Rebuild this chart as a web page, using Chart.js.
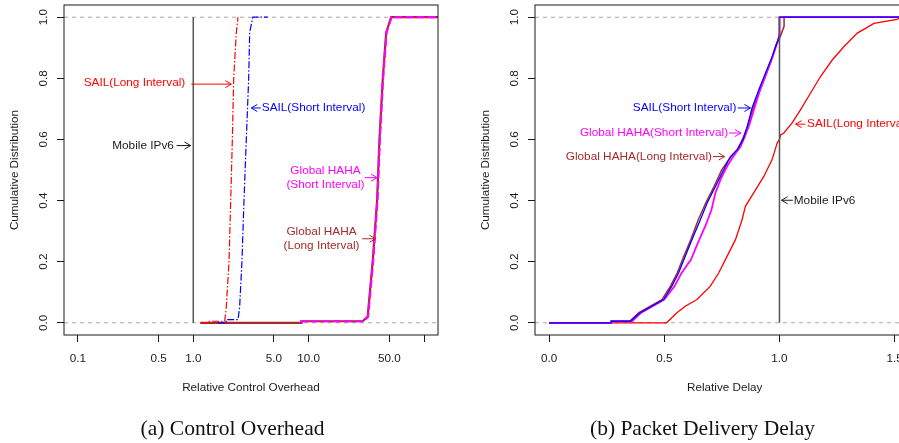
<!DOCTYPE html>
<html>
<head>
<meta charset="utf-8">
<script src="https://cdn.jsdelivr.net/npm/chart.js@4.4.0/dist/chart.umd.min.js"></script>
<style>
  html, body { margin: 0; padding: 0; background: #fff; overflow: hidden; }
  #wrap { position: relative; width: 899px; height: 443px; overflow: hidden; }
  .panel { position: absolute; top: 0; width: 450px; height: 443px; }
  .cap { position: absolute; top: 418px; font: 21.5px/1 "Liberation Serif", "Times New Roman", serif;
         color: #111; white-space: nowrap; transform: translateX(-50%); }
</style>
</head>
<body>
<div id="wrap">
  <div class="panel" style="left:0"><canvas id="overhead" width="450" height="443"></canvas></div>
  <div class="panel" style="left:470.5px"><canvas id="delay" width="450" height="443"></canvas></div>
  <div class="cap" style="left:232.5px">(a) Control Overhead</div>
  <div class="cap" style="left:702.5px">(b) Packet Delivery Delay</div>
</div>
<script>
const FONT = '"Liberation Sans", Arial, sans-serif';
const INK = '#1a1a1a';
const RED = '#ff0000', BLUE = '#0000ff', MAGENTA = '#ff00ff', BROWN = '#a52a2a', GREY = '#555555';

// shared y axis (cumulative distribution)
const yTicks = [0, 0.2, 0.4, 0.6, 0.8, 1.0];
const yTickLabels = ['0.0', '0.2', '0.4', '0.6', '0.8', '1.0'];
const yLimits = [-0.04, 1.04];

// ---- (a) control overhead, log x ----
const ohTicks = [0.1, 0.5, 1, 5, 10, 50, 100];
const ohTickLabels = ['0.1', '0.5', '1.0', '5.0', '10.0', '50.0', ''];
const ohLimits = [0.0759, 131.8];

const ohMobileX = [1, 1];
const ohMobileY = [0, 1];
const ohSailLongX = [1.17, 1.33, 1.33, 1.87, 1.93, 2.04, 2.11, 2.18, 2.24, 2.36, 2.44];
const ohSailLongY = [0, 0, 0.005, 0.005, 0.05, 0.2, 0.4, 0.6, 0.8, 0.95, 1.0];
const ohSailShortX = [1.63, 1.93, 1.93, 2.44, 2.52, 2.64, 2.75, 2.88, 3.02, 3.08, 3.28, 4.42];
const ohSailShortY = [0, 0, 0.01, 0.01, 0.05, 0.2, 0.4, 0.6, 0.8, 0.95, 1.0, 1.0];
const ohHahaShortX = [8.65, 8.65, 29.6, 32.7, 36.1, 39.4, 41.3, 44.1, 47.2, 52.1, 131.8];
const ohHahaShortY = [0, 0.005, 0.005, 0.02, 0.2, 0.4, 0.6, 0.8, 0.95, 1.0, 1.0];
const ohHahaLongX = [1.15, 8.65, 8.65, 29.3, 32.4, 35.8, 39.1, 41.0, 43.8, 46.9, 51.8, 131.8];
const ohHahaLongY = [0, 0, 0.005, 0.005, 0.02, 0.2, 0.4, 0.6, 0.8, 0.95, 1.0, 1.0];

// labels and arrows, in data units
const ohNotes = [
  { lines: ['SAIL(Long Interval)'], x: 0.853, y: 0.784, align: 'right', color: RED },
  { lines: ['SAIL(Short Interval)'], x: 3.92, y: 0.703, align: 'left', color: BLUE },
  { lines: ['Mobile IPv6'], x: 0.679, y: 0.58, align: 'right', color: INK },
  { lines: ['Global HAHA', '(Short Interval)'], x: 13.96, y: 0.475, align: 'center', color: MAGENTA },
  { lines: ['Global HAHA', '(Long Interval)'], x: 12.9, y: 0.275, align: 'center', color: BROWN }
];
const ohArrows = [
  { from: 0.961, to: 2.136, y: 0.781, color: RED },
  { from: 3.85, to: 3.18, y: 0.703, color: BLUE },
  { from: 0.717, to: 0.947, y: 0.58, color: INK },
  { from: 30.6, to: 39.1, y: 0.475, color: MAGENTA },
  { from: 29.0, to: 37.9, y: 0.275, color: BROWN }
];

// ---- (b) packet delivery delay, linear x ----
const dlTicks = [0, 0.5, 1.0, 1.5];
const dlTickLabels = ['0.0', '0.5', '1.0', '1.5'];
const dlLimits = [-0.061, 1.586];

const dlMobileX = [1, 1];
const dlMobileY = [0, 1];
const dlSailShortX = [0, 0.27, 0.27, 0.352, 0.396, 0.497, 0.533, 0.562, 0.591, 0.620, 0.657, 0.686, 0.722, 0.758, 0.787, 0.816, 0.842, 0.86, 0.881, 0.91, 0.939, 0.968, 0.994, 1.0, 1.0, 1.525];
const dlSailShortY = [0, 0, 0.005, 0.005, 0.033, 0.076, 0.12, 0.163, 0.218, 0.272, 0.338, 0.392, 0.446, 0.501, 0.544, 0.566, 0.599, 0.642, 0.703, 0.762, 0.817, 0.871, 0.926, 0.94, 1.0, 1.0];
const dlHahaShortX = [0, 0.27, 0.27, 0.36, 0.40, 0.50, 0.545, 0.575, 0.616, 0.645, 0.678, 0.705, 0.722, 0.745, 0.775, 0.80, 0.83, 0.85, 0.87, 0.89, 0.915, 0.943, 0.97, 0.994, 1.0, 1.0, 1.525];
const dlHahaShortY = [0, 0, 0.005, 0.005, 0.033, 0.076, 0.12, 0.163, 0.207, 0.26, 0.316, 0.37, 0.425, 0.47, 0.515, 0.545, 0.575, 0.61, 0.65, 0.70, 0.76, 0.815, 0.87, 0.925, 0.945, 1.0, 1.0];
const dlHahaLongX = [0, 0.27, 0.27, 0.35, 0.39, 0.49, 0.527, 0.556, 0.585, 0.615, 0.648, 0.68, 0.716, 0.75, 0.78, 0.82, 0.845, 0.865, 0.885, 0.912, 0.94, 0.965, 0.985, 1.0, 1.02, 1.02, 1.525];
const dlHahaLongY = [0, 0, 0.005, 0.005, 0.033, 0.076, 0.12, 0.163, 0.218, 0.272, 0.338, 0.392, 0.446, 0.501, 0.534, 0.57, 0.61, 0.65, 0.70, 0.755, 0.81, 0.86, 0.91, 0.93, 0.97, 1.0, 1.0];
const dlSailLongX = [0, 0.51, 0.555, 0.591, 0.642, 0.70, 0.736, 0.773, 0.809, 0.838, 0.852, 0.888, 0.932, 0.968, 0.99, 1.0, 1.005, 1.019, 1.055, 1.091, 1.135, 1.178, 1.229, 1.28, 1.338, 1.41, 1.51, 1.525];
const dlSailLongY = [0, 0, 0.033, 0.054, 0.076, 0.12, 0.163, 0.218, 0.272, 0.338, 0.381, 0.425, 0.479, 0.534, 0.588, 0.60, 0.615, 0.621, 0.654, 0.697, 0.752, 0.806, 0.86, 0.904, 0.948, 0.98, 0.993, 1.0];

const dlNotes = [
  { lines: ['SAIL(Short Interval)'], x: 0.813, y: 0.703, align: 'right', color: BLUE },
  { lines: ['Global HAHA(Short Interval)'], x: 0.777, y: 0.621, align: 'right', color: MAGENTA },
  { lines: ['Global HAHA(Long Interval)'], x: 0.707, y: 0.544, align: 'right', color: BROWN },
  { lines: ['SAIL(Long Interval)'], x: 1.12, y: 0.65, align: 'left', color: RED },
  { lines: ['Mobile IPv6'], x: 1.062, y: 0.401, align: 'left', color: INK }
];
const dlArrows = [
  { from: 0.819, to: 0.874, y: 0.703, color: BLUE },
  { from: 0.781, to: 0.833, y: 0.621, color: MAGENTA },
  { from: 0.711, to: 0.762, y: 0.544, color: BROWN },
  { from: 1.112, to: 1.070, y: 0.65, color: RED },
  { from: 1.058, to: 1.009, y: 0.401, color: INK }
];

function pts(xs, ys) {
  return xs.map((x, i) => ({ x: x, y: ys[i] }));
}

function line(data, color, width, dash) {
  return { data: data, borderColor: color, borderWidth: width, borderDash: dash || [],
           pointRadius: 0, tension: 0, fill: false };
}

function refLines(limits) {
  // dashed grey at 0 and 1, across the whole plot
  return [0, 1].map(v => line(pts(limits, [v, v]), '#a8a8a8', 1, [4, 4]));
}

// frame, rotated y labels, text notes with arrows
const rStyle = {
  id: 'rStyle',
  afterDraw(chart, args, opts) {
    const { ctx, chartArea: a, scales: { x, y } } = chart;
    ctx.save();
    ctx.strokeStyle = INK;
    ctx.lineWidth = 1;
    ctx.strokeRect(a.left, a.top, a.right - a.left, a.bottom - a.top);

    ctx.fillStyle = INK;
    ctx.font = '11.7px ' + FONT;
    ctx.textAlign = 'center';
    ctx.textBaseline = 'middle';
    yTicks.forEach((v, i) => {
      ctx.save();
      ctx.translate(a.left - 20.5, y.getPixelForValue(v));
      ctx.rotate(-Math.PI / 2);
      ctx.fillText(yTickLabels[i], 0, 0);
      ctx.restore();
    });

    ctx.font = '11.8px ' + FONT;
    opts.notes.forEach(n => {
      ctx.fillStyle = n.color;
      ctx.textAlign = n.align;
      const px = x.getPixelForValue(n.x);
      const py = y.getPixelForValue(n.y);
      const lh = 13.5;
      const top = py - (n.lines.length - 1) * lh / 2;
      n.lines.forEach((t, i) => ctx.fillText(t, px, top + i * lh));
    });

    ctx.lineWidth = 1;
    opts.arrows.forEach(ar => {
      const x0 = x.getPixelForValue(ar.from);
      const x1 = x.getPixelForValue(ar.to);
      const py = y.getPixelForValue(ar.y);
      const dir = x1 > x0 ? 1 : -1;
      ctx.strokeStyle = ar.color;
      ctx.beginPath();
      ctx.moveTo(x0, py);
      ctx.lineTo(x1, py);
      ctx.moveTo(x1 - dir * 6, py - 3.5);
      ctx.lineTo(x1, py);
      ctx.lineTo(x1 - dir * 6, py + 3.5);
      ctx.stroke();
    });
    ctx.restore();
  }
};

function makeChart(id, xType, limits, ticks, tickLabels, xTitle, padRight, datasets, notes, arrows) {
  return new Chart(document.getElementById(id), {
    type: 'line',
    data: { datasets: datasets },
    options: {
      responsive: false,
      animation: false,
      layout: { padding: { left: 0, right: padRight, top: 5, bottom: 0 } },
      plugins: {
        legend: { display: false },
        tooltip: { enabled: false },
        rStyle: { notes: notes, arrows: arrows }
      },
      scales: {
        x: {
          type: xType,
          min: limits[0],
          max: limits[1],
          afterBuildTicks: s => { s.ticks = ticks.map(v => ({ value: v })); },
          afterFit: s => { s.height = 108; },
          grid: { drawOnChartArea: false, drawTicks: true, tickLength: 7, tickColor: INK, tickWidth: 1 },
          border: { display: false },
          ticks: {
            autoSkip: false, maxRotation: 0, padding: 10, color: INK,
            font: { family: FONT, size: 11.7 },
            callback: (v, i) => tickLabels[i]
          },
          title: { display: true, text: xTitle, color: INK, font: { family: FONT, size: 11.7 },
                   padding: { top: 0, bottom: 48 } }
        },
        y: {
          type: 'linear',
          min: yLimits[0],
          max: yLimits[1],
          afterBuildTicks: s => { s.ticks = yTicks.map(v => ({ value: v })); },
          afterFit: s => { s.width = 64; },
          grid: { drawOnChartArea: false, drawTicks: true, tickLength: 7, tickColor: INK, tickWidth: 1 },
          border: { display: false },
          ticks: { display: false },
          title: { display: true, text: 'Cumulative Distribution', color: INK,
                   font: { family: FONT, size: 11.7 }, padding: { top: 8, bottom: 0 } }
        }
      }
    },
    plugins: [rStyle]
  });
}

makeChart('overhead', 'logarithmic', ohLimits, ohTicks, ohTickLabels, 'Relative Control Overhead', 12, [
  line(pts(ohMobileX, ohMobileY), GREY, 1.5),
  line(pts(ohSailLongX, ohSailLongY), RED, 1.2, [7, 2, 1.5, 2]),
  line(pts(ohSailShortX, ohSailShortY), BLUE, 1.2, [7, 2, 1.5, 2]),
  line(pts(ohHahaShortX, ohHahaShortY), MAGENTA, 2.2, [8, 3]),
  line(pts(ohHahaLongX, ohHahaLongY), BROWN, 2.2)
].concat(refLines(ohLimits)), ohNotes, ohArrows);

makeChart('delay', 'linear', dlLimits, dlTicks, dlTickLabels, 'Relative Delay', 6.5, [
  line(pts(dlMobileX, dlMobileY), GREY, 1.5),
  line(pts(dlSailShortX, dlSailShortY), BLUE, 1.3),
  line(pts(dlHahaShortX, dlHahaShortY), MAGENTA, 1.8),
  line(pts(dlHahaLongX, dlHahaLongY), BROWN, 1.5),
  line(pts(dlSailLongX, dlSailLongY), RED, 1.3)
].concat(refLines(dlLimits)), dlNotes, dlArrows);
</script>
</body>
</html>
